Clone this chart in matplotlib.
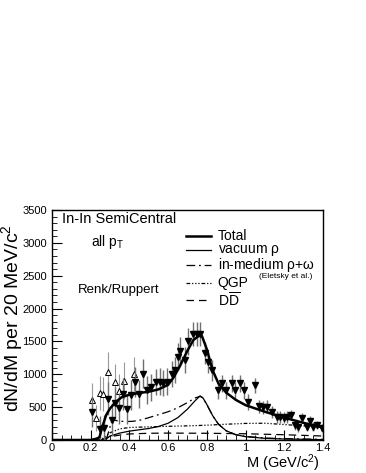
import matplotlib
matplotlib.use("Agg")
import matplotlib.pyplot as plt
import numpy as np
from matplotlib.ticker import MultipleLocator

plt.rcParams['font.family'] = ['Liberation Sans', 'DejaVu Sans']
plt.rcParams['mathtext.fontset'] = 'custom'
plt.rcParams['mathtext.rm'] = 'Liberation Sans'
plt.rcParams['mathtext.it'] = 'Liberation Sans'

# ---- data: filled (down) triangles ----
m_filled = [0.205, 0.25, 0.27, 0.288, 0.308, 0.325, 0.345, 0.365, 0.39, 0.41, 0.43, 0.45,
            0.468, 0.49, 0.51, 0.537, 0.557, 0.575, 0.593, 0.618, 0.635, 0.649, 0.66, 0.687,
            0.704, 0.73, 0.747, 0.765, 0.79, 0.808, 0.825, 0.86, 0.877, 0.9, 0.93, 0.944,
            0.97, 0.993, 1.014, 1.05, 1.071, 1.09, 1.11, 1.135, 1.161, 1.18, 1.2, 1.215,
            1.233, 1.255, 1.27, 1.29, 1.315, 1.333, 1.35, 1.37, 1.393]
y_filled = [430, 170, 180, 630, 310, 560, 480, 700, 470, 690, 880, 700,
            1010, 760, 800, 880, 890, 870, 890, 1000, 1060, 1270, 1360, 1220,
            1500, 1610, 1615, 1615, 1320, 1190, 1060, 760, 860, 760, 860, 760,
            860, 760, 580, 830, 510, 500, 505, 430, 355, 350, 340, 350,
            380, 230, 200, 340, 200, 290, 200, 230, 180]
e_filled = [230, 200, 200, 250, 250, 240, 230, 240, 230, 230, 230, 220,
            220, 210, 200, 200, 200, 200, 200, 200, 200, 210, 200, 200,
            200, 180, 180, 180, 170, 170, 160, 130, 130, 130, 130, 130,
            130, 130, 120, 110, 100, 100, 100, 90, 90, 85, 85, 85,
            80, 75, 75, 75, 70, 70, 70, 65, 60]

# ---- data: open (up) triangles ----
m_open = [0.205, 0.227, 0.248, 0.266, 0.288, 0.325, 0.348, 0.37, 0.425]
y_open = [610, 330, 720, 700, 1040, 880, 740, 900, 1010]
e_open = [250, 200, 260, 260, 300, 280, 260, 280, 260]

# ---- model curves ----
m_total = [0.0, 0.2, 0.23, 0.245, 0.26, 0.28, 0.3, 0.33, 0.36, 0.4, 0.45, 0.5, 0.55, 0.6,
           0.63, 0.66, 0.7, 0.73, 0.76, 0.775, 0.8, 0.83, 0.86, 0.9, 0.95, 1.0, 1.1, 1.2,
           1.3, 1.4]
y_total = [0, 0, 20, 40, 200, 380, 480, 580, 650, 690, 715, 735, 770, 840,
           960, 1120, 1360, 1520, 1590, 1580, 1380, 1060, 860, 720, 610, 530, 430, 340,
           260, 190]

m_vac = [0.0, 0.26, 0.28, 0.3, 0.35, 0.4, 0.45, 0.5, 0.55, 0.6, 0.65, 0.7, 0.74, 0.765,
         0.78, 0.8, 0.83, 0.86, 0.9, 0.95, 1.0, 1.1, 1.2, 1.3, 1.4]
y_vac = [0, 0, 20, 60, 105, 135, 155, 175, 205, 255, 340, 470, 600, 670,
         640, 540, 370, 240, 140, 80, 50, 25, 15, 10, 5]

m_med = [0.0, 0.28, 0.295, 0.31, 0.34, 0.38, 0.42, 0.46, 0.5, 0.55, 0.6, 0.65, 0.7,
         0.74, 0.765, 0.78, 0.8, 0.83, 0.86, 0.9, 0.95, 1.0, 1.1, 1.2, 1.3, 1.4]
y_med = [0, 0, 150, 310, 290, 280, 285, 305, 340, 385, 430, 490, 570,
         640, 665, 640, 540, 370, 240, 140, 80, 55, 30, 20, 15, 10]

m_qgp = [0.0, 0.25, 0.28, 0.3, 0.35, 0.4, 0.5, 0.6, 0.7, 0.8, 0.9, 1.0, 1.1, 1.2,
         1.3, 1.4]
y_qgp = [0, 0, 60, 110, 170, 190, 200, 208, 215, 225, 240, 252, 255, 235,
         215, 200]

m_dd = [0.0, 0.25, 0.28, 0.32, 0.36, 0.4, 0.5, 0.6, 0.8, 1.0, 1.2, 1.4]
y_dd = [0, 0, 30, 60, 80, 92, 102, 105, 102, 95, 80, 60]

legend_labels = ['Total', r'vacuum $\rho$', r'in-medium $\rho$+$\omega$', 'QGP', r'D$\overline{\rm D}$']

fig = plt.figure(figsize=(3.66, 4.73), dpi=100)
ax = fig.add_axes([0.142, 0.0698, 0.7405, 0.4862])

styles = [dict(color='black', lw=1.8, ls='-'),
          dict(color='black', lw=0.9, ls='-'),
          dict(color='black', lw=0.9, ls=(0, (7, 3, 1.5, 3))),
          dict(color='black', lw=0.9, ls=(0, (3, 1.5, 1, 1.5, 1, 1.5, 1, 1.5))),
          dict(color='black', lw=0.9, ls=(0, (6, 4)))]

ax.plot(m_vac, y_vac, **styles[1])
ax.plot(m_med, y_med, **styles[2])
ax.plot(m_qgp, y_qgp, **styles[3])
ax.plot(m_dd, y_dd, **styles[4])

ax.errorbar(m_open, y_open, yerr=e_open, fmt='^', mfc='white', mec='black', mew=0.7,
            ms=5, ecolor='#999999', elinewidth=0.8, capsize=0, ls='none', zorder=3)
ax.errorbar(m_filled, y_filled, yerr=e_filled, fmt='v', color='black', ms=5,
            ecolor='#707070', elinewidth=1.0, capsize=0, ls='none', zorder=4)
ax.plot(m_total, y_total, zorder=5, **styles[0])

ax.set_xlim(0, 1.4)
ax.set_ylim(0, 3500)
ax.xaxis.set_major_locator(MultipleLocator(0.2))
ax.xaxis.set_minor_locator(MultipleLocator(0.05))
ax.yaxis.set_major_locator(MultipleLocator(500))
ax.yaxis.set_minor_locator(MultipleLocator(100))
ax.set_xticks([0, 0.2, 0.4, 0.6, 0.8, 1.0, 1.2, 1.4])
ax.set_xticklabels(['0', '0.2', '0.4', '0.6', '0.8', '1', '1.2', '1.4'])
ax.tick_params(which='both', direction='in', top=False, right=False, labelsize=8)
ax.tick_params(axis='x', pad=2)
ax.tick_params(which='major', length=7, width=0.8)
ax.tick_params(which='minor', length=3.5, width=0.6)
for s in ax.spines.values():
    s.set_linewidth(1.0)

ax.set_xlabel(r'M (GeV/c$^{2}$)', fontsize=10.5, ha='right', va='center')
ax.xaxis.set_label_coords(0.99, -0.102)
ax.set_ylabel(r'dN/dM per 20 MeV/c$^{2}$', fontsize=14, ha='center', va='center')
ax.yaxis.set_label_coords(-0.148, 0.53)

ax.text(0.036, 0.961, 'In-In SemiCentral', transform=ax.transAxes, fontsize=10.5, va='center')
ax.text(0.143, 0.861, r'all p$_{\rm T}$', transform=ax.transAxes, fontsize=10, va='center')
ax.text(0.097, 0.652, 'Renk/Ruppert', transform=ax.transAxes, fontsize=9.5, va='center')

ly = [0.888, 0.826, 0.761, 0.683, 0.609]
for lab, y, st in zip(legend_labels, ly, styles):
    ax.plot([0.496, 0.585], [y, y], transform=ax.transAxes, clip_on=False, **st)
    ax.text(0.612, y, lab, transform=ax.transAxes, fontsize=10, va='center')
ax.text(0.765, 0.712, '(Eletsky et al.)', transform=ax.transAxes, fontsize=6, va='center')

fig.savefig('out.png', dpi=100)
